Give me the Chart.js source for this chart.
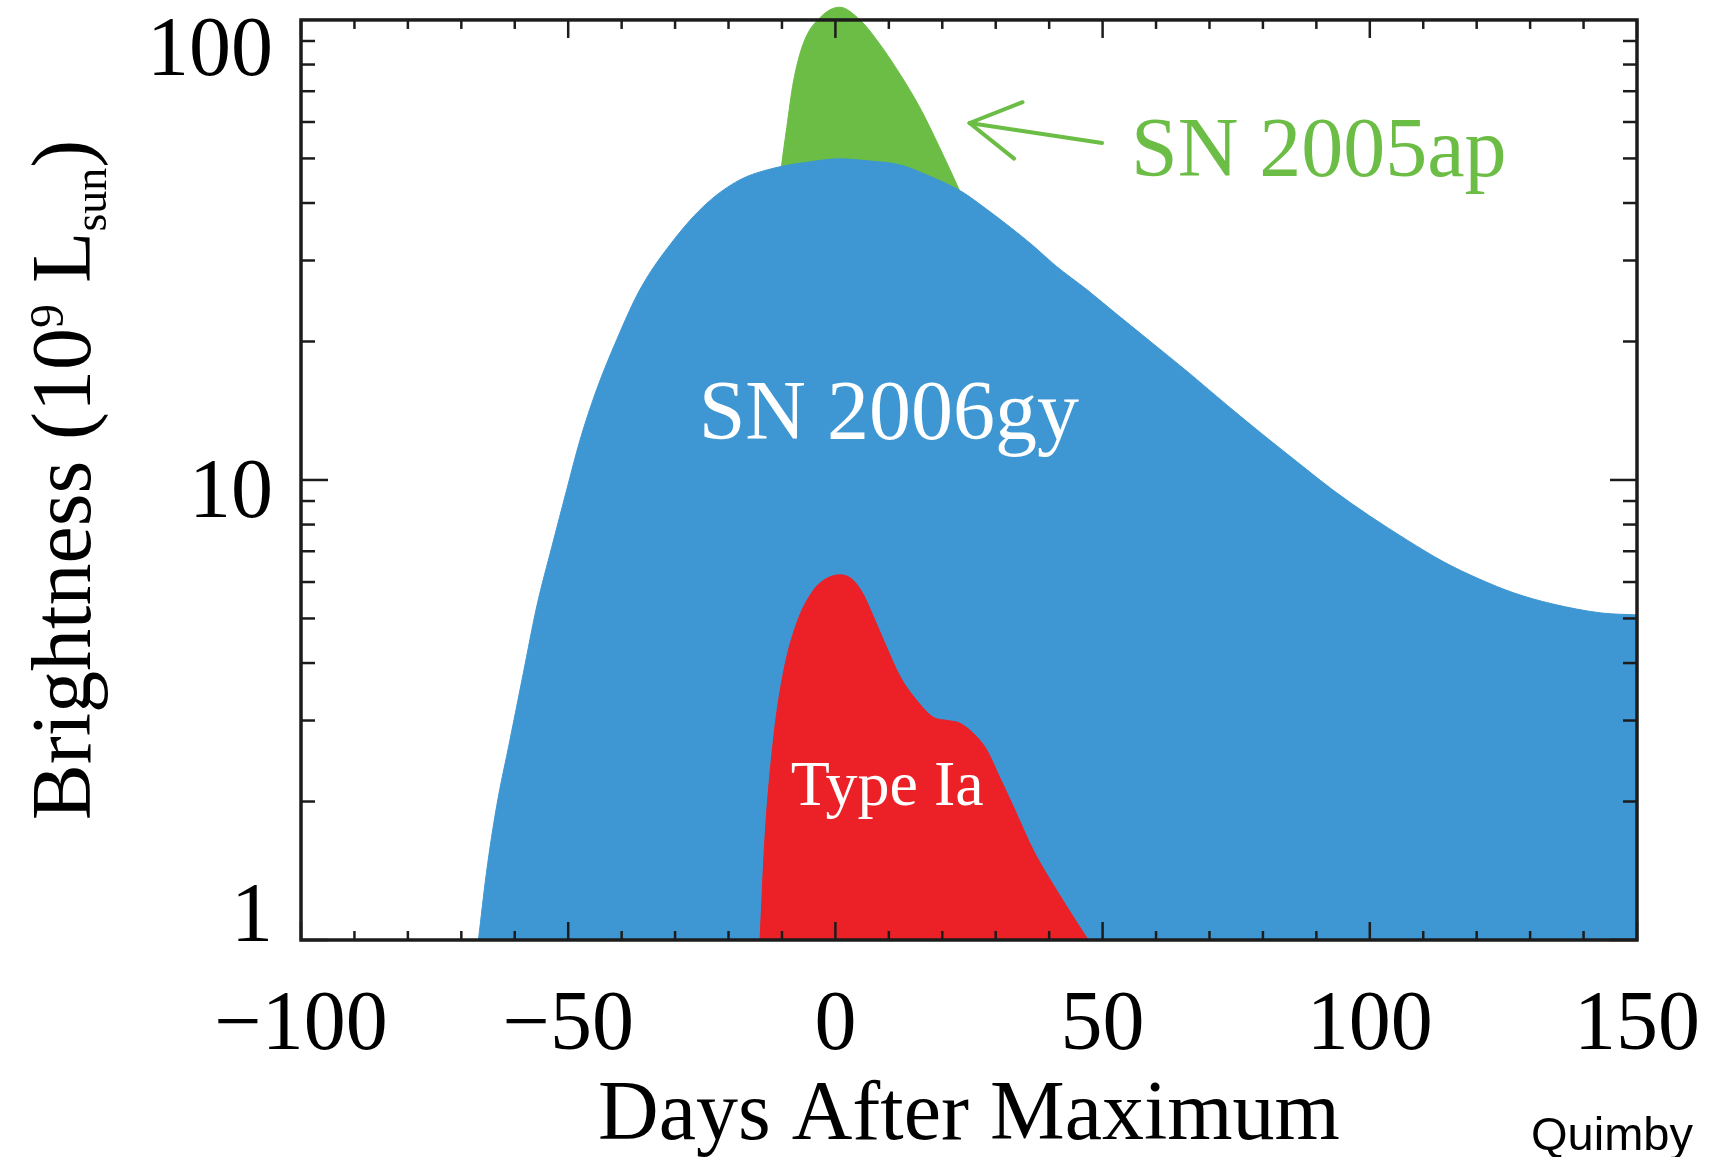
<!DOCTYPE html>
<html>
<head>
<meta charset="utf-8">
<title>Supernova light curves</title>
<script src="https://cdn.jsdelivr.net/npm/chart.js@4.4.1/dist/chart.umd.min.js"></script>
<style>
  html, body { margin: 0; padding: 0; background: #fff; }
</style>
</head>
<body>
<canvas id="lightcurves" width="1717" height="1157"></canvas>
<script>
// days after maximum light / brightness in units of 1e9 L_sun
const days2006gy = [-66.8, -65.3, -63.4, -60.9, -58.4, -55.9, -53, -50.3, -47.8, -44.7, -40.9, -36.6, -30.3, -24.1, -17.9, -11.6, -5, 0.8, 6, 12.1, 17.9, 23.7, 28, 32.9, 37, 41.1, 47.1, 52.9, 59.4, 66.4, 73.1, 79.8, 86.6, 93.3, 100, 107, 113.9, 120.5, 127, 134.1, 143.3, 150];
const lum2006gy = [1.0, 1.40, 1.95, 2.72, 3.80, 5.30, 7.2, 9.5, 12.2, 15.7, 20.2, 25.9, 33.2, 39.9, 44.9, 47.6, 49.1, 49.9, 49.4, 48.4, 45.6, 42.3, 39.0, 35.3, 32.3, 29.3, 25.9, 22.8, 19.8, 17.0, 14.6, 12.6, 10.9, 9.47, 8.35, 7.40, 6.63, 6.09, 5.68, 5.38, 5.14, 5.09];

const days2005ap = [-11, -10.1, -9.1, -7.9, -6, -2.9, 0.8, 4.6, 7.7, 12.1, 15.8, 19.5, 23.3, 26];
const lum2005ap = [38, 47.9, 58.4, 72.9, 88.9, 101.1, 106.6, 100, 90.6, 76.2, 64.5, 52.8, 42.4, 36];

const daysIa = [-14.1, -13.2, -11.6, -9.75, -7.25, -4.1, -1.5, 0.9, 3, 5, 7.1, 9.5, 12.1, 15.2, 18.3, 21, 23.3, 26.4, 28.3, 30.8, 33.3, 37, 42, 47.3];
const lumIa = [1.0, 1.65, 2.72, 3.8, 4.88, 5.76, 6.12, 6.22, 6.1, 5.7, 5.05, 4.35, 3.74, 3.32, 3.05, 3.0, 2.96, 2.77, 2.59, 2.25, 1.95, 1.57, 1.25, 1.0];

const xTickLabels = [-100, -50, 0, 50, 100, 150];
const yTickLabels = [1, 10, 100];

const xMin = -100, xMax = 150;
const yMin = 1, yTop = 100;
const yMax = 110.5; // a little headroom above the frame for the SN 2005ap peak

const BLUE = '#3e97d3';
const RED = '#ec2027';
const GREEN = '#6bbd45';
const serif = '"Liberation Serif", "Times New Roman", Times, serif';

const toPoints = (days, lum) => days.map((d, i) => ({x: d, y: lum[i]}));

// frame with inward ticks on all sides, tick labels, titles and annotations
const axesFrame = {
  id: 'axesFrame',
  afterDatasetsDraw(chart) {
    const {ctx, scales: {x, y}} = chart;
    const left = x.getPixelForValue(xMin), right = x.getPixelForValue(xMax);
    const top = y.getPixelForValue(yTop), bottom = y.getPixelForValue(yMin);

    const seg = (x1, y1, x2, y2) => {
      ctx.beginPath();
      ctx.moveTo(x1, y1);
      ctx.lineTo(x2, y2);
      ctx.stroke();
    };

    ctx.save();
    ctx.strokeStyle = '#1c1c1c';
    ctx.lineWidth = 2.5;
    for (let d = xMin; d <= xMax; d += 10) {
      const px = x.getPixelForValue(d);
      const len = d % 50 === 0 ? 18 : 9;
      seg(px, bottom, px, bottom - len);
      seg(px, top, px, top + len);
    }
    for (let k = 0; k < 2; k++) {
      for (let m = 1; m < 10; m++) {
        const py = y.getPixelForValue(m * Math.pow(10, k));
        const len = m === 1 ? 27 : 14;
        seg(left, py, left + len, py);
        seg(right, py, right - len, py);
      }
    }
    ctx.lineWidth = 3.5;
    ctx.strokeRect(left, top, right - left, bottom - top);

    // tick labels
    ctx.fillStyle = '#000';
    ctx.font = '84px ' + serif;
    ctx.textAlign = 'center';
    ctx.textBaseline = 'alphabetic';
    xTickLabels.forEach(v => {
      const txt = v < 0 ? '\u2212' + Math.abs(v) : String(v);
      ctx.fillText(txt, x.getPixelForValue(v), bottom + 109);
    });
    ctx.textAlign = 'right';
    yTickLabels.forEach((v, i) => {
      const py = y.getPixelForValue(v);
      let base = py + 37;
      if (i === 0) base = py + 1;
      if (i === yTickLabels.length - 1) base = py + 55;
      ctx.fillText(String(v), left - 28, base);
    });

    // axis titles
    ctx.textAlign = 'center';
    ctx.fillText('Days After Maximum', (left + right) / 2, 1139);

    const parts = [
      {t: 'Brightness (10', size: 84, shift: 0},
      {t: '9', size: 48, shift: -27},
      {t: ' L', size: 84, shift: 0},
      {t: 'sun', size: 46, shift: 16},
      {t: ')', size: 84, shift: 0}
    ];
    let total = 0;
    parts.forEach(p => {
      ctx.font = p.size + 'px ' + serif;
      p.w = ctx.measureText(p.t).width;
      total += p.w;
    });
    ctx.save();
    ctx.translate(90, (top + bottom) / 2);
    ctx.rotate(-Math.PI / 2);
    ctx.textAlign = 'left';
    let cx = -total / 2;
    parts.forEach(p => {
      ctx.font = p.size + 'px ' + serif;
      ctx.fillText(p.t, cx, p.shift);
      cx += p.w;
    });
    ctx.restore();

    // curve labels
    ctx.font = '84px ' + serif;
    ctx.fillStyle = '#fff';
    ctx.textAlign = 'center';
    ctx.fillText('SN 2006gy', x.getPixelForValue(10), y.getPixelForValue(12.3));
    ctx.font = '64px ' + serif;
    ctx.fillText('Type Ia', x.getPixelForValue(9.7), y.getPixelForValue(1.97));

    ctx.font = '84px ' + serif;
    ctx.fillStyle = GREEN;
    ctx.textAlign = 'left';
    ctx.fillText('SN 2005ap', x.getPixelForValue(55.3), y.getPixelForValue(45.8));

    // arrow pointing at the SN 2005ap peak
    const tx = x.getPixelForValue(49.9), ty = y.getPixelForValue(54.0);
    const hx = x.getPixelForValue(25.1), hy = y.getPixelForValue(59.7);
    const ang = Math.atan2(ty - hy, tx - hx);
    const head = 57, spread = Math.PI / 6;
    ctx.strokeStyle = GREEN;
    ctx.lineWidth = 4;
    ctx.lineCap = 'round';
    seg(tx, ty, hx, hy);
    seg(hx, hy, hx + head * Math.cos(ang - spread), hy + head * Math.sin(ang - spread));
    seg(hx, hy, hx + head * Math.cos(ang + spread), hy + head * Math.sin(ang + spread));

    // credit
    ctx.fillStyle = '#000';
    ctx.font = '47px "Liberation Sans", Arial, sans-serif';
    ctx.fillText('Quimby', 1531, 1150);
    ctx.restore();
  }
};

const curve = (label, days, lum, color) => ({
  label: label,
  data: toPoints(days, lum),
  borderColor: color,
  backgroundColor: color,
  borderWidth: 1,
  pointRadius: 0,
  fill: 'start',
  cubicInterpolationMode: 'monotone'
});

// first dataset is drawn on top
new Chart(document.getElementById('lightcurves'), {
  type: 'line',
  data: {
    datasets: [
      curve('Type Ia', daysIa, lumIa, RED),
      curve('SN 2006gy', days2006gy, lum2006gy, BLUE),
      curve('SN 2005ap', days2005ap, lum2005ap, GREEN)
    ]
  },
  options: {
    responsive: false,
    animation: false,
    layout: { padding: { left: 301, right: 80, top: 0, bottom: 217 } },
    scales: {
      x: { type: 'linear', min: xMin, max: xMax, display: false },
      y: { type: 'logarithmic', min: yMin, max: yMax, display: false }
    },
    plugins: {
      legend: { display: false },
      tooltip: { enabled: false }
    }
  },
  plugins: [axesFrame]
});
</script>
</body>
</html>
